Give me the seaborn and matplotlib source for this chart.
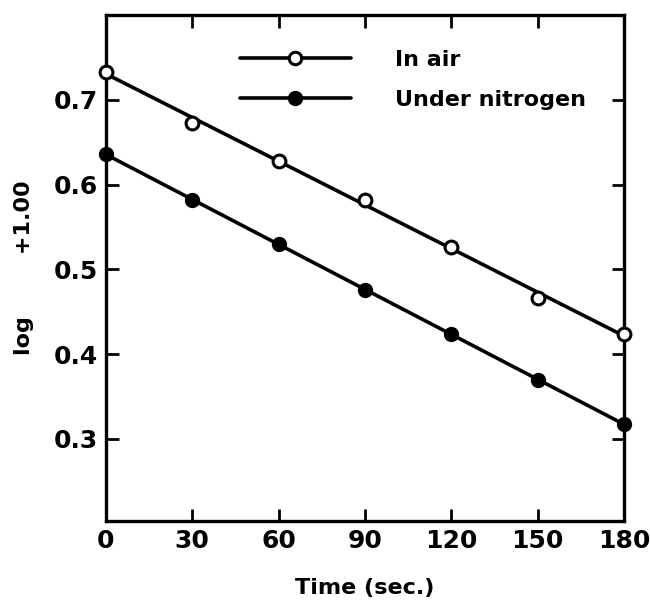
import matplotlib
matplotlib.use('Agg')
import matplotlib.pyplot as plt
import seaborn as sns
import pandas as pd
from matplotlib.lines import Line2D

# Data
time_sec = [0, 30, 60, 90, 120, 150, 180]
in_air = [0.733, 0.673, 0.628, 0.582, 0.526, 0.466, 0.424]
under_nitrogen = [0.636, 0.582, 0.530, 0.475, 0.424, 0.369, 0.318]

x_ticks = [0, 30, 60, 90, 120, 150, 180]
y_ticks = [0.3, 0.4, 0.5, 0.6, 0.7]
y_tick_labels = ['0.3', '0.4', '0.5', '0.6', '0.7']

df = pd.DataFrame({'time': time_sec, 'air': in_air, 'nitrogen': under_nitrogen})

sns.set_style('ticks')
plt.rcParams['font.family'] = ['DejaVu Sans']
plt.rcParams['font.weight'] = 'bold'
plt.rcParams['text.color'] = 'black'
plt.rcParams['axes.labelcolor'] = 'black'
plt.rcParams['axes.edgecolor'] = 'black'
plt.rcParams['xtick.color'] = 'black'
plt.rcParams['ytick.color'] = 'black'

fig = plt.figure(figsize=(6.5, 6.03), dpi=100)
ax = fig.add_axes([0.163, 0.136, 0.797, 0.839])

# fitted straight lines
sns.regplot(x='time', y='air', data=df, scatter=False, ci=None, ax=ax,
            line_kws={'color': 'black', 'lw': 2.6})
sns.regplot(x='time', y='nitrogen', data=df, scatter=False, ci=None, ax=ax,
            line_kws={'color': 'black', 'lw': 2.6})

# points
sns.scatterplot(x='time', y='air', data=df, ax=ax, marker='o', s=85,
                facecolor='white', edgecolor='black', linewidth=2.2,
                zorder=5, clip_on=False)
sns.scatterplot(x='time', y='nitrogen', data=df, ax=ax, marker='o', s=100,
                color='black', edgecolor='black', linewidth=1,
                zorder=5, clip_on=False)

ax.set_xlim(0, 180)
ax.set_ylim(0.203, 0.80)
ax.set_xticks(x_ticks)
ax.set_xticklabels([str(t) for t in x_ticks])
ax.set_yticks(y_ticks)
ax.set_yticklabels(y_tick_labels)

ax.tick_params(direction='in', length=9, width=2, top=True, right=True,
               labelsize=18, pad=6)
for s in ax.spines.values():
    s.set_linewidth(2.4)
    s.set_visible(True)

ax.set_xlabel('Time (sec.)', fontsize=16, fontweight='bold', labelpad=18)
ax.set_ylabel('log        +1.00', fontsize=16, fontweight='bold', labelpad=14)

handles = [
    Line2D([], [], color='black', lw=2.6, marker='o', markersize=9,
           markerfacecolor='white', markeredgewidth=2.2),
    Line2D([], [], color='black', lw=2.6, marker='o', markersize=10,
           markerfacecolor='black'),
]
ax.legend(handles, ['In air', 'Under nitrogen'], loc='upper left',
          bbox_to_anchor=(0.22, 0.97), frameon=False, fontsize=16,
          handlelength=5, handletextpad=2, numpoints=1, labelspacing=0.9)

fig.savefig('out.png', dpi=100)
